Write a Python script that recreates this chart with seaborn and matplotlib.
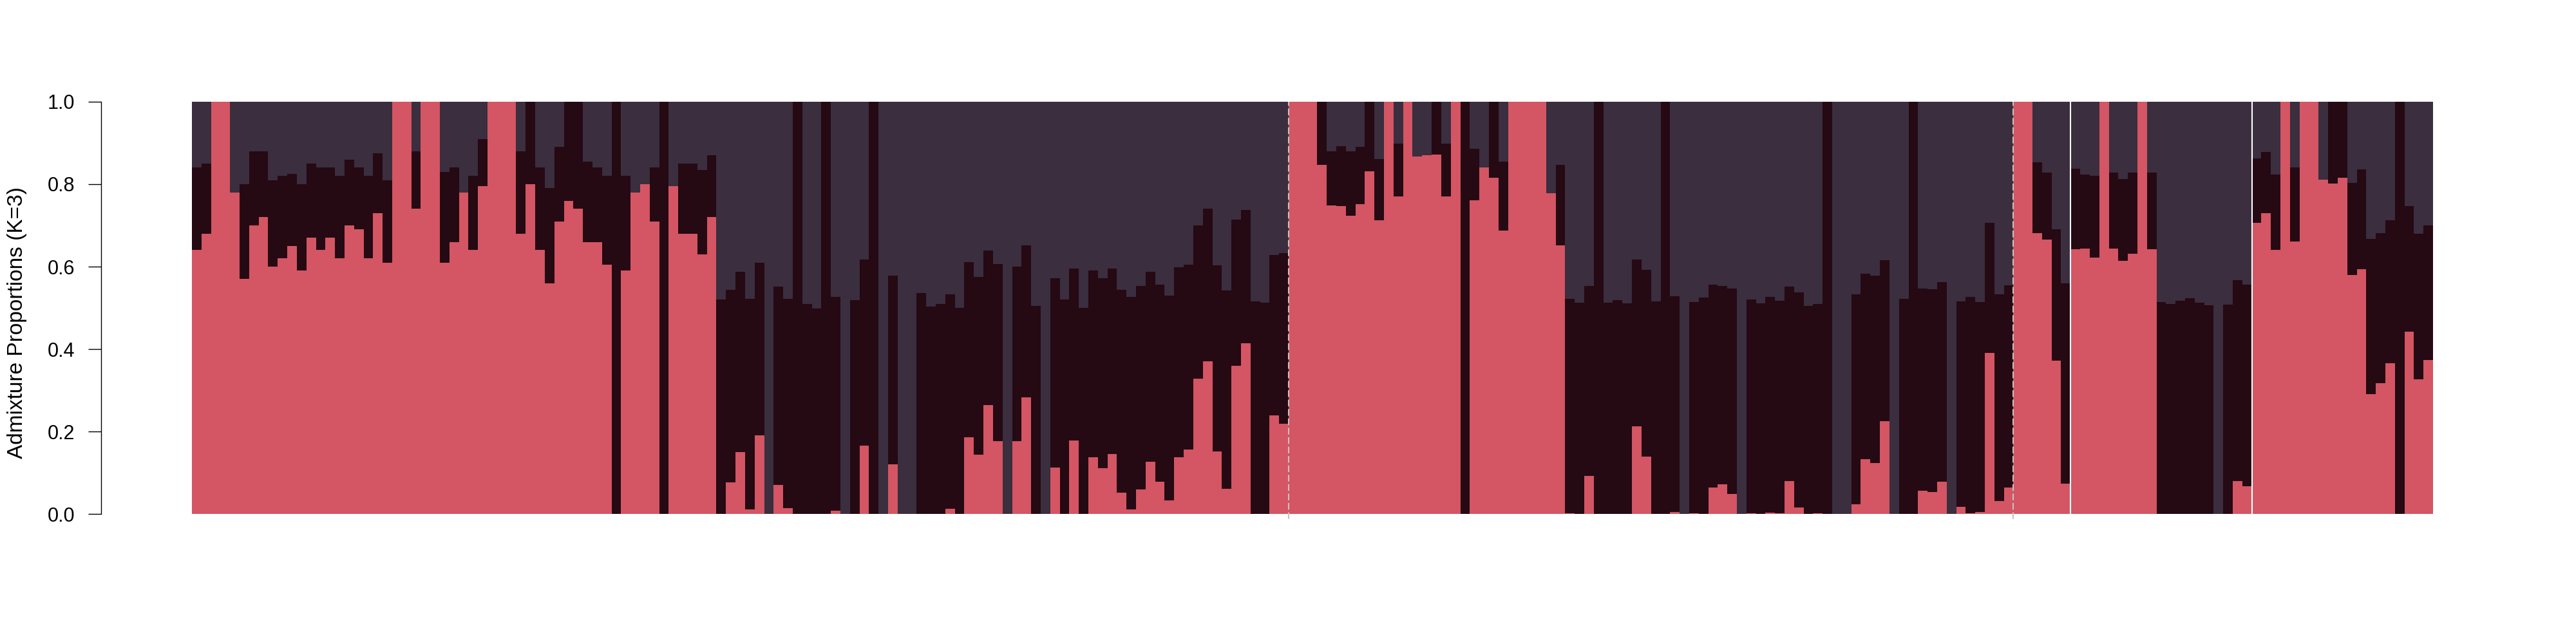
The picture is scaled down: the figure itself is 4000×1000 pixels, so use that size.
import numpy as np
import pandas as pd
import matplotlib
matplotlib.use("Agg")
import matplotlib.pyplot as plt
import seaborn as sns

# Admixture proportions (K=3), one value per sample
cluster1 = [  # red, bottom
    0.64, 0.68, 1.00, 1.00, 0.78, 0.57, 0.70, 0.72, 0.60, 0.62,
    0.65, 0.59, 0.67, 0.64, 0.67, 0.62, 0.70, 0.69, 0.62, 0.73,
    0.61, 1.00, 1.00, 0.74, 1.00, 1.00, 0.61, 0.66, 0.78, 0.64,
    0.795, 1.00, 1.00, 1.00, 0.68, 0.80, 0.64, 0.56, 0.71, 0.76,
    0.74, 0.66, 0.66, 0.605, 0.00, 0.59, 0.78, 0.80, 0.71, 0.00,
    0.795, 0.68, 0.68, 0.63, 0.72, 0.00, 0.076, 0.15, 0.011, 0.19,
    0.00, 0.07, 0.014, 0.00, 0.00, 0.00, 0.00, 0.008, 0.00, 0.00,
    0.166, 0.00, 0.00, 0.12, 0.00, 0.00, 0.00, 0.00, 0.00, 0.0125,
    0.00, 0.186, 0.143, 0.264, 0.176, 0.00, 0.176, 0.283, 0.00, 0.00,
    0.1125, 0.00, 0.178, 0.00, 0.1375, 0.111, 0.145, 0.051, 0.011, 0.059,
    0.126, 0.078, 0.033, 0.1375, 0.156, 0.328, 0.37, 0.151, 0.061, 0.359,
    0.414, 0.00, 0.00, 0.239, 0.219, 1.00, 1.00, 1.00, 0.847, 0.749,
    0.747, 0.724, 0.752, 0.832, 0.7125, 1.00, 0.77, 1.00, 0.867, 0.87,
    0.872, 0.77, 1.00, 0.00, 0.761, 0.841, 0.816, 0.688, 1.00, 1.00,
    1.00, 1.00, 0.778, 0.651, 0.001, 0.00, 0.092, 0.00, 0.00, 0.00,
    0.00, 0.2125, 0.139, 0.00, 0.00, 0.005, 0.00, 0.001, 0.00, 0.064,
    0.072, 0.049, 0.00, 0.001, 0.00, 0.003, 0.001, 0.08, 0.016, 0.00,
    0.001, 0.00, 0.00, 0.00, 0.024, 0.133, 0.124, 0.225, 0.00, 0.00,
    0.00, 0.056, 0.053, 0.078, 0.00, 0.017, 0.001, 0.005, 0.391, 0.031,
    0.064, 1.00, 1.00, 0.682, 0.666, 0.372, 0.074, 0.642, 0.644, 0.622,
    1.00, 0.644, 0.614, 0.632, 1.00, 0.642, 0.00, 0.00, 0.00, 0.00,
    0.00, 0.00, 0.00, 0.00, 0.08, 0.067, 0.707, 0.73, 0.641, 1.00,
    0.661, 1.00, 1.00, 0.811, 0.802, 0.816, 0.58, 0.594, 0.291, 0.317,
    0.366, 0.00, 0.442, 0.326, 0.374,
]

cluster2 = [  # dark maroon, middle
    0.20, 0.17, 0.00, 0.00, 0.00, 0.23, 0.18, 0.16, 0.21, 0.20,
    0.175, 0.21, 0.18, 0.20, 0.17, 0.20, 0.16, 0.15, 0.20, 0.145,
    0.20, 0.00, 0.00, 0.14, 0.00, 0.00, 0.22, 0.18, 0.00, 0.18,
    0.115, 0.00, 0.00, 0.00, 0.20, 0.20, 0.20, 0.23, 0.18, 0.24,
    0.26, 0.195, 0.18, 0.215, 1.00, 0.23, 0.00, 0.00, 0.13, 1.00,
    0.00, 0.17, 0.17, 0.205, 0.15, 0.52, 0.468, 0.438, 0.511, 0.42,
    0.00, 0.482, 0.508, 1.00, 0.509, 0.499, 1.00, 0.519, 0.00, 0.519,
    0.451, 1.00, 0.00, 0.458, 0.00, 0.00, 0.536, 0.503, 0.509, 0.5205,
    0.50, 0.425, 0.432, 0.375, 0.431, 0.00, 0.424, 0.369, 0.505, 0.00,
    0.4595, 0.52, 0.417, 0.50, 0.4535, 0.461, 0.45, 0.493, 0.516, 0.494,
    0.462, 0.479, 0.497, 0.4615, 0.449, 0.372, 0.371, 0.452, 0.481, 0.355,
    0.324, 0.516, 0.5125, 0.389, 0.414, 0.00, 0.00, 0.00, 0.153, 0.131,
    0.145, 0.156, 0.139, 0.168, 0.1485, 0.00, 0.129, 0.00, 0.00, 0.00,
    0.128, 0.129, 0.00, 1.00, 0.125, 0.00, 0.184, 0.167, 0.00, 0.00,
    0.00, 0.00, 0.00, 0.196, 0.521, 0.5125, 0.461, 1.00, 0.5125, 0.519,
    0.511, 0.4045, 0.453, 0.516, 1.00, 0.523, 0.00, 0.513, 0.525, 0.493,
    0.481, 0.498, 0.00, 0.519, 0.511, 0.524, 0.516, 0.472, 0.5215, 0.505,
    0.508, 1.00, 0.00, 0.00, 0.509, 0.45, 0.454, 0.391, 0.00, 0.522,
    1.00, 0.491, 0.492, 0.4845, 0.00, 0.499, 0.526, 0.509, 0.316, 0.502,
    0.491, 0.00, 0.00, 0.171, 0.162, 0.319, 0.485, 0.196, 0.18, 0.198,
    0.00, 0.184, 0.1985, 0.196, 0.00, 0.186, 0.514, 0.509, 0.517, 0.524,
    0.5125, 0.507, 0.00, 0.508, 0.487, 0.49, 0.1555, 0.148, 0.183, 0.00,
    0.18, 0.00, 0.00, 0.00, 0.198, 0.184, 0.223, 0.242, 0.376, 0.365,
    0.3465, 1.00, 0.305, 0.354, 0.326,
]

# samples per population block, in plotting order
group_sizes = [115, 76, 6, 19, 19]
# style of the line drawn after each block (except the last)
separator_styles = ["dashed", "dashed", "solid", "solid"]

colors = {"q1": "#D45563", "q2": "#250913", "q3": "#3A2E3F"}

df = pd.DataFrame({"q1": cluster1, "q2": cluster2})
df["q3"] = (1 - df["q1"] - df["q2"]).clip(lower=0)
df["sample"] = np.arange(len(df))
# cumulative heights for layered drawing
df["top3"] = df["q1"] + df["q2"] + df["q3"]
df["top2"] = df["q1"] + df["q2"]
df["top1"] = df["q1"]

sns.set_style("white")
plt.rcParams["font.family"] = ["Liberation Sans", "DejaVu Sans"]

fig = plt.figure(figsize=(40, 10), dpi=100)
ax = fig.add_axes([298 / 4000, 0.202, 3480 / 4000, 0.64])

for col, key in [("top3", "q3"), ("top2", "q2"), ("top1", "q1")]:
    sns.barplot(data=df, x="sample", y=col, color=colors[key], width=1,
                saturation=1, linewidth=0, errorbar=None, ax=ax,
                antialiased=False)

ax.set_xlim(-0.5, len(df) - 0.5)
ax.set_ylim(0, 1)

bounds = np.cumsum(group_sizes)[:-1]
for b, style in zip(bounds, separator_styles):
    if style == "dashed":
        ax.vlines(b - 0.5, -0.012, 1, colors="#C4C4C4", linewidth=1.5,
                  linestyles=(0, (5, 2)), clip_on=False, zorder=5)
    else:
        ax.vlines(b - 0.5, -0.012, 1, colors="white", linewidth=1.5,
                  clip_on=False, zorder=5)

for s in ["top", "right", "bottom"]:
    ax.spines[s].set_visible(False)
ax.spines["left"].set_position(("axes", -141 / 3480))
ax.spines["left"].set_bounds(0, 1)
ax.spines["left"].set_linewidth(1.0)
ax.spines["left"].set_color("black")

ax.set_xticks([])
ax.set_xlabel("")
ax.set_yticks([0, 0.2, 0.4, 0.6, 0.8, 1.0])
ax.set_yticklabels(["0.0", "0.2", "0.4", "0.6", "0.8", "1.0"])
ax.tick_params(axis="y", length=14.4, width=1.0, pad=15, labelsize=22,
               color="black", labelcolor="black", left=True)
ax.set_ylabel("Admixture Proportions (K=3)", fontsize=24, color="black")
ax.yaxis.set_label_coords(-0.0736, 0.464)

fig.savefig("out.png", dpi=100, facecolor="white")
